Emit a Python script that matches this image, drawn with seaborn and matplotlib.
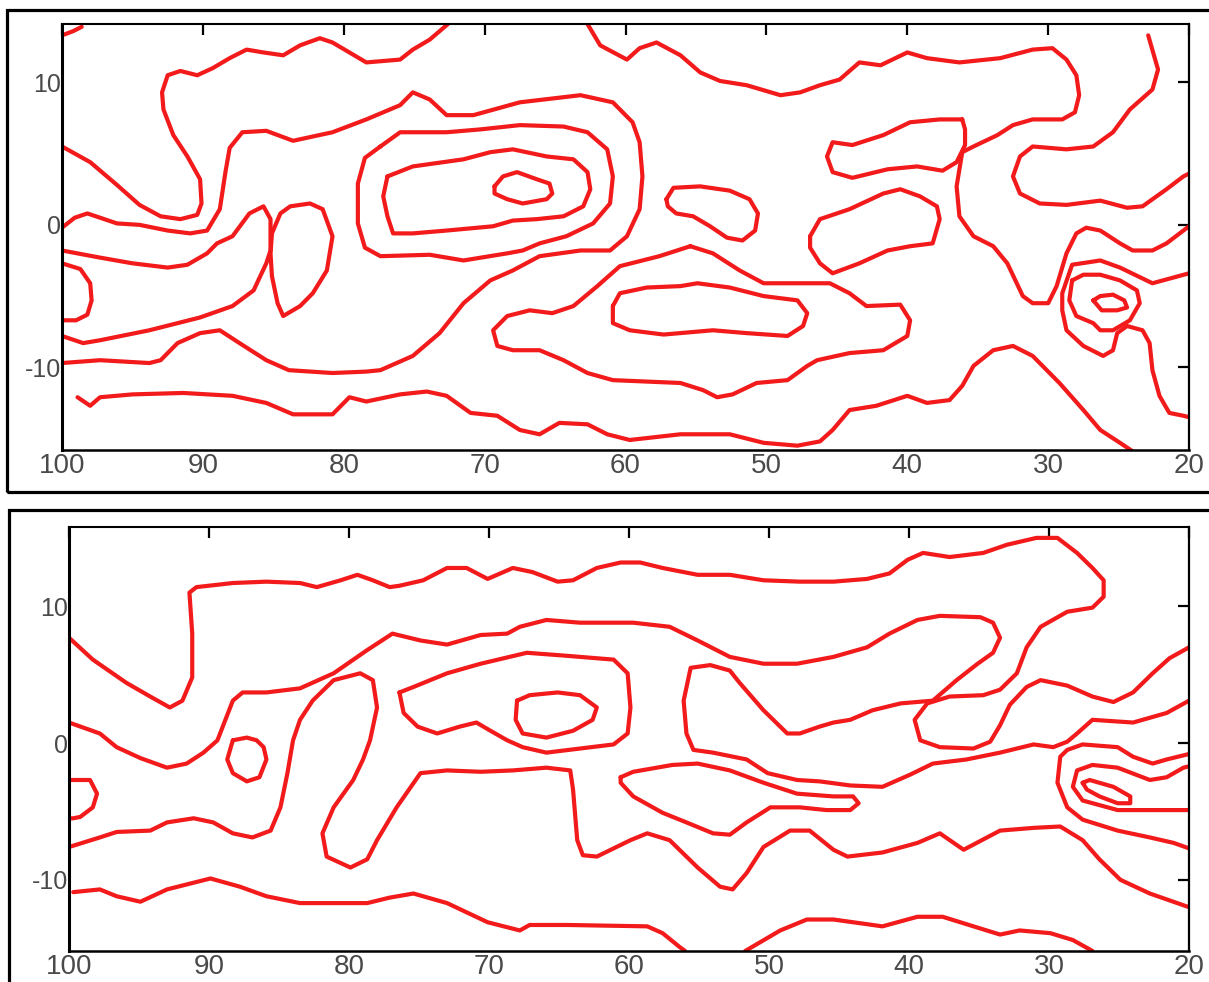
import matplotlib
matplotlib.use("Agg")
import matplotlib.pyplot as plt
from matplotlib.patches import Rectangle
import pandas as pd
import seaborn as sns

# ---------------- upper map: contour traces (longitude, latitude) ----------------
a_corner_lon = [100.0, 99.2, 98.6]
a_corner_lat = [13.3, 13.6, 13.9]

a_north_lon = [100.0, 98.0, 96.1, 94.5, 93.0, 91.6, 90.4, 90.1, 90.2, 91.1, 92.1, 92.8, 92.9, 92.5, 91.6,
               90.4, 89.3, 88.1, 86.9, 85.7, 84.3, 83.1, 81.7, 80.8, 79.6, 78.4, 76.0, 75.1, 73.9, 72.6]
a_north_lat = [5.5, 4.4, 2.8, 1.4, 0.6, 0.4, 0.7, 1.5, 3.2, 4.8, 6.3, 8.1, 9.3, 10.5, 10.8,
               10.5, 11.0, 11.7, 12.3, 12.1, 11.9, 12.6, 13.1, 12.8, 12.1, 11.4, 11.6, 12.3, 13.0, 14.1]

a_east_lon = [62.7, 61.8, 59.9, 59.0, 57.8, 56.1, 54.7, 53.3, 51.4, 49.0, 47.6, 46.2, 44.8, 43.4, 41.9,
              40.0, 38.6, 36.3, 33.4, 31.1, 29.7, 28.7, 28.0, 27.8, 28.1, 29.0, 31.1, 32.5, 33.6, 35.3,
              36.1, 36.5, 36.3, 35.3, 33.9, 32.9, 31.8, 31.1, 30.0, 29.4, 28.7, 28.0, 27.3, 26.3, 24.9,
              24.0, 22.6, 21.6, 20.4, 20.0]
a_east_lat = [14.1, 12.6, 11.6, 12.4, 12.8, 11.9, 10.7, 10.1, 9.8, 9.1, 9.3, 9.8, 10.2, 11.4, 11.2,
              12.1, 11.7, 11.4, 11.7, 12.3, 12.4, 11.6, 10.5, 9.1, 7.9, 7.4, 7.4, 7.0, 6.3, 5.5,
              5.1, 2.7, 0.6, -0.8, -1.5, -2.7, -5.0, -5.5, -5.5, -4.3, -2.0, -0.6, -0.2, -0.4, -1.3,
              -1.8, -1.8, -1.3, -0.4, -0.1]

a_tongue_lon = [36.1, 37.7, 39.8, 41.7, 43.9, 45.3, 45.7, 45.3, 43.9, 41.4, 39.3, 37.5, 36.5, 35.9, 35.9, 36.1]
a_tongue_lat = [7.4, 7.4, 7.2, 6.3, 5.6, 5.8, 4.8, 3.7, 3.3, 3.9, 4.1, 3.8, 4.4, 5.6, 6.7, 7.4]

a_hook_ne_lon = [22.9, 22.2, 22.6, 24.2, 25.4, 26.8, 28.7, 31.1, 32.0, 32.5, 32.0, 30.6, 28.7, 26.3,
                 24.4, 23.3, 21.6, 20.4, 20.0]
a_hook_ne_lat = [13.3, 10.9, 9.5, 8.1, 6.5, 5.5, 5.3, 5.5, 4.8, 3.4, 2.2, 1.5, 1.4, 1.7,
                 1.2, 1.3, 2.5, 3.4, 3.6]

a_band_lon = [100.0, 99.1, 98.2, 97.3, 96.1, 94.5, 92.5, 90.9, 89.7, 88.8, 88.4, 88.1, 87.2, 85.5, 83.6,
              80.8, 78.4, 76.0, 75.1, 73.9, 72.7, 70.8, 67.5, 63.2, 60.9, 59.5, 59.0, 58.8, 59.0, 59.9,
              61.1, 63.2, 66.1, 68.0, 69.6, 71.5, 73.2, 75.1, 77.4, 78.4, 80.8, 83.9, 85.5, 87.4, 88.8,
              90.2, 91.8, 93.0, 93.8, 97.3, 100.0]
a_band_lat = [-0.2, 0.5, 0.8, 0.5, 0.1, 0.0, -0.4, -0.6, -0.4, 1.1, 3.7, 5.4, 6.5, 6.6, 5.9,
              6.5, 7.4, 8.4, 9.3, 8.8, 7.7, 7.7, 8.6, 9.1, 8.6, 7.2, 5.8, 3.4, 1.1, -0.8,
              -1.8, -1.8, -2.2, -3.2, -3.9, -5.5, -7.6, -9.2, -10.2, -10.3, -10.4, -10.2, -9.5, -8.3, -7.4,
              -7.6, -8.3, -9.5, -9.7, -9.5, -9.7]

a_hook_w_lon = [100.0, 97.3, 95.0, 92.5, 91.1, 89.7, 89.0, 87.9, 86.7, 85.7, 85.2, 85.2, 85.5, 86.4,
                87.9, 90.2, 93.8, 97.3, 98.5, 100.0]
a_hook_w_lat = [-1.8, -2.3, -2.7, -3.0, -2.8, -2.0, -1.3, -0.8, 0.8, 1.3, 0.4, -1.8, -2.7, -4.6,
                -5.7, -6.5, -7.4, -8.1, -8.3, -7.8]

a_edge_w_lon = [100.0, 98.7, 98.0, 97.9, 98.2, 99.0, 100.0]
a_edge_w_lat = [-2.7, -3.1, -4.1, -5.3, -6.3, -6.7, -6.7]

a_oval_lon = [85.1, 84.5, 83.8, 82.4, 81.5, 80.8, 81.0, 81.2, 82.2, 83.1, 84.3, 84.7, 85.1, 85.2, 85.1]
a_oval_lat = [-0.6, 0.8, 1.3, 1.5, 1.1, -0.8, -2.0, -3.2, -4.8, -5.7, -6.4, -5.5, -3.6, -2.0, -0.6]

a_core1_lon = [77.4, 76.0, 72.7, 70.3, 67.5, 64.4, 62.7, 61.3, 60.9, 61.1, 62.3, 64.2, 66.1, 67.3,
               68.4, 71.5, 73.9, 77.4, 78.5, 79.0, 79.0, 78.5, 77.4]
a_core1_lat = [5.5, 6.5, 6.5, 6.7, 7.0, 6.9, 6.5, 5.3, 3.4, 1.5, 0.1, -0.8, -1.3, -1.8,
               -2.0, -2.5, -2.1, -2.2, -1.6, 0.1, 2.9, 4.7, 5.5]

a_core2_lon = [76.9, 75.1, 71.5, 69.6, 68.0, 65.6, 63.7, 62.7, 62.5, 63.0, 64.4, 66.3, 68.0, 69.4,
               72.7, 75.1, 76.5, 76.9, 77.2, 76.9]
a_core2_lat = [3.4, 4.1, 4.6, 5.1, 5.3, 4.8, 4.6, 3.7, 2.5, 1.3, 0.6, 0.4, 0.3, -0.1,
               -0.4, -0.6, -0.6, 0.6, 2.0, 3.4]

a_core3_lon = [69.3, 68.7, 67.7, 66.3, 65.4, 65.2, 65.6, 67.3, 68.4, 69.3, 69.3]
a_core3_lat = [2.7, 3.4, 3.7, 3.2, 2.9, 2.2, 1.8, 1.5, 1.8, 2.2, 2.7]

a_cell_lon = [57.1, 56.6, 54.7, 52.6, 51.2, 50.6, 50.8, 51.7, 52.8, 54.0, 55.2, 56.4, 57.0, 57.1]
a_cell_lat = [1.8, 2.6, 2.7, 2.4, 1.8, 0.8, -0.4, -1.1, -0.9, -0.1, 0.6, 0.8, 1.3, 1.8]

a_lobe_lon = [55.4, 53.8, 51.9, 50.2, 47.6, 45.5, 44.1, 42.9, 40.5, 39.8, 40.0, 41.7, 44.1, 46.4,
              47.1, 48.5, 50.7, 52.4, 53.5, 54.5, 56.1, 58.5, 60.9, 62.7, 64.4, 66.1, 68.0, 69.1,
              69.4, 68.4, 66.8, 65.2, 63.7, 62.0, 60.4, 57.6, 55.4]
a_lobe_lat = [-1.5, -2.0, -3.2, -4.1, -4.1, -4.1, -4.8, -5.7, -5.6, -6.7, -7.8, -8.8, -9.0, -9.5,
              -9.9, -10.9, -11.1, -11.9, -12.1, -11.6, -11.1, -11.0, -10.9, -10.4, -9.5, -8.8, -8.8, -8.5,
              -7.4, -6.4, -6.0, -6.2, -5.7, -4.3, -2.9, -2.2, -1.5]

a_lobe_in_lon = [60.9, 60.4, 58.5, 56.1, 54.9, 52.6, 50.2, 47.8, 47.1, 47.4, 48.5, 51.4, 53.8, 57.3,
                 59.7, 60.9, 60.9]
a_lobe_in_lat = [-5.7, -4.8, -4.4, -4.3, -4.1, -4.4, -5.0, -5.3, -6.2, -7.1, -7.8, -7.6, -7.4, -7.7,
                 -7.4, -6.9, -5.7]

a_south_lon = [98.9, 98.0, 97.3, 95.0, 91.4, 87.9, 85.5, 83.6, 80.8, 79.6, 78.4, 76.0, 74.1, 72.7,
               71.0, 69.1, 67.5, 66.1, 64.7, 62.7, 61.3, 59.7, 56.1, 52.6, 50.2, 47.8, 46.2, 45.3,
               44.1, 42.2, 40.0, 38.6, 37.0, 36.1, 35.3, 33.9, 32.5, 31.1, 29.2, 27.5, 26.3, 24.9, 24.0]
a_south_lat = [-12.1, -12.7, -12.1, -11.9, -11.8, -12.0, -12.5, -13.3, -13.3, -12.1, -12.4, -11.9, -11.7, -12.0,
               -13.2, -13.4, -14.4, -14.7, -13.9, -14.0, -14.7, -15.1, -14.7, -14.7, -15.3, -15.5, -15.2, -14.4,
               -13.0, -12.7, -12.0, -12.5, -12.3, -11.3, -9.9, -8.8, -8.5, -9.2, -11.1, -13.0, -14.4, -15.3, -15.9]

a_ring1_lon = [20.0, 22.6, 24.9, 26.3, 28.3, 29.0, 29.0, 28.7, 27.5, 26.1, 25.4, 25.1, 24.4, 23.3,
               22.8, 22.6, 22.1, 21.4, 20.4, 20.0]
a_ring1_lat = [-3.4, -4.1, -3.0, -2.5, -2.8, -4.8, -6.0, -7.4, -8.5, -9.2, -8.8, -7.6, -7.1, -7.4,
               -8.3, -10.2, -12.0, -13.2, -13.4, -13.5]

a_ring2_lon = [28.3, 28.5, 28.0, 26.8, 26.3, 25.4, 24.2, 23.5, 23.7, 24.9, 26.3, 27.5, 28.3]
a_ring2_lat = [-3.9, -5.3, -6.4, -6.9, -7.4, -7.4, -6.7, -5.5, -4.6, -3.9, -3.5, -3.5, -3.9]

a_ring3_lon = [26.8, 26.3, 25.4, 24.6, 24.4, 25.1, 26.2, 26.8]
a_ring3_lat = [-5.3, -5.0, -4.9, -5.3, -5.8, -6.0, -6.0, -5.3]

a_patch_lon = [46.9, 46.2, 44.1, 41.7, 40.5, 39.1, 37.9, 37.7, 38.2, 39.8, 41.4, 43.4, 45.3, 46.2, 46.9, 46.9]
a_patch_lat = [-0.8, 0.4, 1.1, 2.2, 2.5, 2.0, 1.3, 0.4, -1.3, -1.5, -1.8, -2.7, -3.4, -2.7, -1.6, -0.8]

# ---------------- lower map: contour traces (longitude, latitude) ----------------
b_north_lon = [100.0, 98.3, 95.9, 94.2, 92.8, 91.9, 91.2, 91.2, 91.4, 90.9,
               88.3, 85.9, 83.5, 82.3, 80.6, 79.4, 78.3, 77.1, 76.4, 74.7,
               73.0, 71.6, 70.1, 68.3, 66.9, 65.1, 64.0, 62.3, 60.6, 59.2,
               57.6, 55.1, 52.8, 50.4, 47.8, 45.4, 43.0, 41.4, 40.1, 39.0,
               37.1, 34.7, 33.0, 30.9, 29.4, 28.0, 26.9, 26.1, 26.1, 26.9,
               28.7, 30.6, 31.6, 32.3, 33.5, 34.7, 37.1, 38.7, 39.6, 39.2,
               37.8, 35.4, 34.2, 33.5, 32.8, 31.6, 30.6, 28.7, 26.9, 25.4,
               24.0, 22.6, 21.4, 20.0]
b_north_lat = [7.7, 6.1, 4.4, 3.4, 2.6, 3.1, 4.8, 8.0, 11.0, 11.4,
               11.7, 11.8, 11.7, 11.4, 11.9, 12.3, 11.9, 11.4, 11.5, 11.9,
               12.8, 12.8, 12.0, 12.8, 12.5, 11.8, 11.9, 12.8, 13.2, 13.2,
               12.8, 12.3, 12.3, 11.9, 11.8, 11.8, 12.0, 12.4, 13.4, 13.9,
               13.6, 13.9, 14.5, 15.0, 15.0, 13.9, 12.8, 11.9, 10.7, 9.9,
               9.6, 8.5, 7.0, 5.1, 3.9, 3.5, 3.4, 2.9, 1.7, 0.2,
               -0.3, -0.4, 0.1, 1.3, 2.8, 4.1, 4.6, 4.2, 3.4, 3.0,
               3.7, 5.1, 6.2, 7.0]

b_mid_lon = [100.0, 97.8, 96.6, 94.9, 93.0, 91.6, 90.4, 89.4, 88.3, 87.6,
             85.9, 83.5, 81.1, 78.7, 76.9, 74.9, 73.0, 70.6, 68.7, 67.8,
             65.9, 63.5, 59.7, 57.1, 55.1, 52.8, 50.4, 48.0, 45.4, 43.0,
             41.4, 39.4, 37.8, 34.9, 34.0, 33.5, 34.0, 35.1, 36.6, 38.3,
             40.6, 42.6, 44.2, 45.4, 46.4, 47.8, 48.7, 50.4, 52.1, 52.8,
             54.2, 55.6, 56.1, 55.9, 55.4, 54.0, 51.6, 50.1, 48.0, 46.4,
             44.2, 41.9, 39.9, 38.3, 35.9, 33.5, 31.1, 29.7, 28.7, 28.0,
             26.9, 24.0, 21.6, 20.0]
b_mid_lat = [1.5, 0.7, -0.3, -1.1, -1.8, -1.5, -0.7, 0.2, 3.1, 3.7,
             3.7, 4.0, 5.1, 6.8, 8.0, 7.5, 7.2, 7.9, 8.0, 8.5,
             9.0, 8.8, 8.8, 8.5, 7.5, 6.3, 5.8, 5.8, 6.3, 7.0,
             8.0, 9.0, 9.3, 9.2, 8.8, 7.7, 6.6, 5.8, 4.6, 3.1,
             2.9, 2.4, 1.7, 1.5, 1.2, 0.7, 0.7, 2.4, 4.4, 5.3,
             5.7, 5.5, 3.1, 0.7, -0.5, -0.7, -1.2, -2.2, -2.7, -2.8,
             -3.1, -3.2, -2.3, -1.5, -1.2, -0.7, -0.1, -0.3, 0.1, 0.7,
             1.7, 1.5, 2.2, 3.1]

b_south_lon = [100.0, 97.8, 96.6, 94.2, 93.0, 91.1, 89.7, 88.3, 86.9, 85.6,
               84.9, 84.4, 84.0, 83.5, 82.6, 81.1, 79.2, 78.3, 78.0, 78.5,
               79.0, 79.7, 81.1, 81.9, 81.6, 79.9, 78.7, 78.0, 76.6, 74.9,
               73.0, 70.6, 68.3, 65.9, 64.2, 64.0, 63.7, 63.3, 62.3, 59.9,
               58.7, 57.1, 55.1, 53.5, 52.6, 51.6, 50.4, 48.5, 47.1, 45.4,
               44.4, 41.9, 39.4, 37.8, 36.1, 33.5, 31.1, 29.2, 27.6, 26.4,
               24.9, 22.8, 20.0]
b_south_lat = [-7.6, -6.9, -6.5, -6.4, -5.8, -5.5, -5.8, -6.6, -6.9, -6.4,
               -4.7, -2.2, 0.2, 1.7, 3.1, 4.6, 5.1, 4.6, 2.6, 0.2,
               -1.2, -2.7, -4.7, -6.6, -8.3, -9.1, -8.5, -7.1, -4.7, -2.2,
               -2.0, -2.1, -2.0, -1.8, -2.0, -3.4, -7.1, -8.2, -8.3, -7.1,
               -6.6, -7.1, -9.1, -10.5, -10.7, -9.5, -7.6, -6.4, -6.4, -7.8,
               -8.3, -8.0, -7.3, -6.6, -7.8, -6.4, -6.2, -6.1, -7.1, -8.5,
               -10.0, -11.0, -12.0]

b_edge_w_lon = [100.0, 98.5, 98.0, 98.3, 99.2, 99.7, 100.0]
b_edge_w_lat = [-2.7, -2.7, -3.7, -4.7, -5.4, -5.5, -5.5]

b_ring_lon = [88.3, 87.3, 86.6, 86.1, 85.9, 86.4, 87.3, 88.3, 88.7, 88.3]
b_ring_lat = [0.2, 0.4, 0.2, -0.3, -1.2, -2.5, -2.8, -2.2, -1.2, 0.2]

b_far_south_lon = [99.7, 97.8, 96.6, 94.9, 93.0, 89.9, 87.8, 85.9, 83.5, 81.1, 78.7,
                   77.1, 75.4, 73.0, 70.1, 67.8, 67.1, 64.4, 58.7, 57.6, 56.4, 56.0]
b_far_south_lat = [-10.9, -10.7, -11.2, -11.6, -10.7, -9.9, -10.5, -11.2, -11.7, -11.7, -11.7,
                   -11.3, -11.0, -11.7, -13.1, -13.7, -13.3, -13.3, -13.4, -13.9, -14.9, -15.2]

b_se_lon = [51.7, 49.2, 47.3, 45.4, 41.9, 39.4, 37.6, 35.4, 33.5, 32.1, 29.9, 28.3, 26.9]
b_se_lat = [-15.2, -13.7, -12.9, -12.9, -13.4, -12.7, -12.7, -13.4, -14.0, -13.7, -13.9, -14.4, -15.2]

b_core1_lon = [76.4, 75.4, 73.0, 70.6, 67.3, 64.7, 61.1, 60.1, 59.9, 60.1, 61.1,
               63.5, 65.9, 67.6, 68.7, 69.9, 70.9, 72.1, 73.7, 75.1, 76.1, 76.4]
b_core1_lat = [3.7, 4.1, 5.1, 5.8, 6.6, 6.4, 6.1, 5.1, 2.6, 0.7, -0.1,
               -0.4, -0.7, -0.3, 0.2, 0.9, 1.5, 1.2, 0.7, 1.2, 2.2, 3.7]

b_core2_lon = [68.0, 67.1, 65.1, 63.5, 62.3, 62.6, 64.0, 65.9, 67.6, 68.1, 68.0]
b_core2_lat = [3.1, 3.5, 3.7, 3.5, 2.6, 1.7, 0.9, 0.4, 0.7, 1.7, 3.1]

b_lens_lon = [60.6, 59.7, 56.9, 55.1, 52.8, 50.4, 48.0, 45.4, 44.0, 43.6, 44.2,
              45.9, 47.8, 49.9, 51.6, 52.8, 54.0, 55.9, 57.6, 59.7, 60.6, 60.6]
b_lens_lat = [-2.5, -2.1, -1.6, -1.5, -2.0, -2.9, -3.7, -3.9, -3.9, -4.4, -4.9,
              -4.9, -4.7, -4.7, -5.8, -6.7, -6.6, -5.8, -5.1, -3.9, -2.9, -2.5]

b_swirl1_lon = [20.0, 20.4, 21.6, 22.6, 24.0, 25.1, 27.6, 28.7, 29.2, 29.4, 28.7, 27.6, 25.1, 22.8, 21.1, 20.0]
b_swirl1_lat = [-0.8, -0.9, -1.2, -1.5, -1.0, -0.3, -0.1, -0.5, -1.0, -2.9, -4.7, -5.6, -6.4, -6.9, -7.3, -7.7]

b_swirl2_lon = [20.0, 20.4, 21.6, 22.8, 25.1, 26.9, 28.0, 28.3, 27.6, 25.1, 22.8, 20.0]
b_swirl2_lat = [-1.7, -1.8, -2.5, -2.7, -1.8, -1.6, -2.0, -3.2, -4.2, -4.9, -4.9, -4.9]

b_swirl3_lon = [27.6, 27.1, 25.4, 24.2, 24.2, 25.1, 26.4, 27.3, 27.6]
b_swirl3_lat = [-2.9, -2.7, -3.2, -3.9, -4.4, -4.4, -3.9, -3.4, -2.9]

upper_traces = {
    "corner": (a_corner_lon, a_corner_lat), "north": (a_north_lon, a_north_lat),
    "east": (a_east_lon, a_east_lat), "tongue": (a_tongue_lon, a_tongue_lat),
    "hook_ne": (a_hook_ne_lon, a_hook_ne_lat), "band": (a_band_lon, a_band_lat),
    "hook_w": (a_hook_w_lon, a_hook_w_lat), "edge_w": (a_edge_w_lon, a_edge_w_lat),
    "oval": (a_oval_lon, a_oval_lat), "core1": (a_core1_lon, a_core1_lat),
    "core2": (a_core2_lon, a_core2_lat), "core3": (a_core3_lon, a_core3_lat),
    "cell": (a_cell_lon, a_cell_lat), "lobe": (a_lobe_lon, a_lobe_lat),
    "lobe_in": (a_lobe_in_lon, a_lobe_in_lat), "south": (a_south_lon, a_south_lat),
    "ring1": (a_ring1_lon, a_ring1_lat), "ring2": (a_ring2_lon, a_ring2_lat),
    "ring3": (a_ring3_lon, a_ring3_lat), "patch": (a_patch_lon, a_patch_lat),
}
lower_traces = {
    "north": (b_north_lon, b_north_lat), "mid": (b_mid_lon, b_mid_lat),
    "south": (b_south_lon, b_south_lat), "edge_w": (b_edge_w_lon, b_edge_w_lat),
    "ring": (b_ring_lon, b_ring_lat), "far_south": (b_far_south_lon, b_far_south_lat),
    "se": (b_se_lon, b_se_lat), "core1": (b_core1_lon, b_core1_lat),
    "core2": (b_core2_lon, b_core2_lat), "lens": (b_lens_lon, b_lens_lat),
    "swirl1": (b_swirl1_lon, b_swirl1_lat), "swirl2": (b_swirl2_lon, b_swirl2_lat),
    "swirl3": (b_swirl3_lon, b_swirl3_lat),
}

x_ticks = [100, 90, 80, 70, 60, 50, 40, 30, 20]
y_ticks = [-10, 0, 10]

LINE_RED = "#f21a1a"
LABEL_GREY = "#4a4a4a"


def traces_frame(traces):
    rows = []
    for name, (lons, lats) in traces.items():
        for k, (lo, la) in enumerate(zip(lons, lats)):
            rows.append({"trace": name, "step": k, "lon": lo, "lat": la})
    return pd.DataFrame(rows)


def draw_panel(ax, traces, ylim):
    df = traces_frame(traces)
    sns.lineplot(data=df, x="lon", y="lat", units="trace", estimator=None, sort=False,
                 color=LINE_RED, linewidth=3.0, legend=False, ax=ax,
                 solid_capstyle="round", solid_joinstyle="round")
    ax.set_xlim(100, 20)
    ax.set_ylim(*ylim)
    ax.set_xticks(x_ticks)
    ax.set_xticklabels([str(v) for v in x_ticks])
    ax.set_yticks(y_ticks)
    ax.set_yticklabels([str(v) for v in y_ticks])
    ax.set_xlabel("")
    ax.set_ylabel("")
    ax.tick_params(axis="both", which="both", direction="in", length=8, width=1.6,
                   top=True, right=True, colors="black", labelcolor=LABEL_GREY)
    ax.tick_params(axis="x", labelsize=20, pad=2)
    ax.tick_params(axis="y", labelsize=18, pad=1)
    for side, lw in (("left", 2.2), ("bottom", 1.8), ("top", 1.5), ("right", 1.6)):
        ax.spines[side].set_linewidth(lw)
        ax.spines[side].set_color("black")
        ax.spines[side].set_visible(True)
    ax.grid(False)


sns.set_theme(style="white")
plt.rcParams["font.family"] = ["Liberation Sans", "DejaVu Sans"]

fig = plt.figure(figsize=(12.09, 9.82), dpi=100)
fig.patch.set_facecolor("white")

# framed boxes around each map
fig.add_artist(Rectangle((0.0058, 0.4990), 1.05, 0.4908, transform=fig.transFigure,
                         fill=False, lw=2.3, ec="black", clip_on=False))
fig.add_artist(Rectangle((0.0074, -0.05), 1.05, 0.5307, transform=fig.transFigure,
                         fill=False, lw=2.3, ec="black", clip_on=False))

ax_top = fig.add_axes([0.0513, 0.5418, 0.9322, 0.4338])
ax_bot = fig.add_axes([0.0571, 0.0316, 0.9264, 0.4318])

draw_panel(ax_top, upper_traces, (-15.8, 14.1))
draw_panel(ax_bot, lower_traces, (-15.2, 15.8))

fig.savefig("out.png", dpi=100, facecolor="white")
